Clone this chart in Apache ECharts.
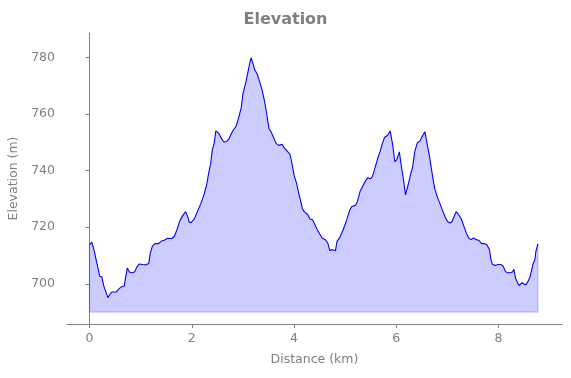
<!DOCTYPE html>
<html>
<head>
<meta charset="utf-8">
<script src="https://cdn.jsdelivr.net/npm/echarts@6/dist/echarts.min.js"></script>
<style>
  html, body { margin: 0; padding: 0; background: #fff; }
  #chart { width: 571px; height: 378px; }
</style>
</head>
<body>
<div id="chart"></div>
<script>
// distance along the route (km)
var distanceKm = [
  0.00, 0.045, 0.10, 0.15, 0.20, 0.24, 0.28, 0.31, 0.36, 0.40, 0.435, 0.47, 0.52, 0.58, 0.63, 0.68,
  0.71, 0.74, 0.78, 0.82, 0.88, 0.93, 0.97, 1.04, 1.10, 1.16, 1.19, 1.23, 1.28, 1.35, 1.40, 1.46,
  1.53, 1.61, 1.66, 1.71, 1.77, 1.82, 1.88, 1.92, 1.95, 1.99, 2.05, 2.11, 2.18, 2.24, 2.29, 2.33,
  2.37, 2.40, 2.44, 2.47, 2.53, 2.58, 2.63, 2.68, 2.73, 2.78, 2.82, 2.87, 2.92, 2.97, 3.00, 3.05,
  3.09, 3.13, 3.16, 3.20, 3.23, 3.28, 3.32, 3.37, 3.42, 3.46, 3.51, 3.55, 3.60, 3.65, 3.70, 3.77,
  3.81, 3.86, 3.92, 3.96, 4.00, 4.05, 4.09, 4.14, 4.16, 4.20, 4.23, 4.27, 4.31, 4.36, 4.40, 4.45,
  4.50, 4.55, 4.61, 4.66, 4.70, 4.74, 4.81, 4.84, 4.89, 4.94, 4.99, 5.04, 5.09, 5.13, 5.20, 5.24,
  5.29, 5.35, 5.39, 5.44, 5.49, 5.53, 5.59, 5.63, 5.68, 5.73, 5.77, 5.83, 5.88, 5.90, 5.93, 5.97,
  6.01, 6.06, 6.09, 6.14, 6.18, 6.23, 6.28, 6.32, 6.36, 6.41, 6.46, 6.50, 6.56, 6.58, 6.60, 6.65,
  6.70, 6.75, 6.80, 6.85, 6.90, 6.95, 7.00, 7.05, 7.09, 7.13, 7.17, 7.22, 7.27, 7.31, 7.37, 7.42,
  7.46, 7.51, 7.56, 7.61, 7.63, 7.67, 7.72, 7.77, 7.82, 7.85, 7.88, 7.94, 7.99, 8.05, 8.09, 8.13,
  8.17, 8.22, 8.27, 8.30, 8.33, 8.37, 8.40, 8.43, 8.46, 8.50, 8.54, 8.58, 8.62, 8.67, 8.71, 8.73,
  8.77
];

// elevation (m)
var elevationM = [
  713.7, 714.7, 711.0, 706.8, 702.7, 702.5, 699.2, 698.6, 695.1, 696.3, 697.1, 696.6, 697.1, 698.3, 699.0, 699.2,
  702.7, 705.6, 704.2, 703.9, 704.2, 706.0, 707.0, 706.8, 706.7, 707.2, 710.9, 713.3, 714.2, 714.2, 715.0, 715.4,
  716.1, 716.0, 716.8, 719.1, 722.4, 724.0, 725.5, 723.8, 721.7, 721.7, 722.9, 725.5, 728.5, 731.6, 734.9, 739.0,
  742.5, 747.2, 749.8, 754.0, 753.1, 751.3, 750.1, 750.3, 751.3, 753.3, 754.5, 755.8, 758.9, 762.4, 767.1, 770.6,
  774.1, 777.6, 779.8, 777.6, 775.6, 774.1, 771.8, 768.9, 764.8, 760.7, 754.8, 753.7, 751.7, 749.6, 748.9, 749.3,
  747.9, 747.0, 745.8, 742.5, 738.4, 735.5, 732.0, 728.5, 726.7, 725.5, 726.1, 724.4, 722.9, 722.6, 721.2, 719.3,
  717.7, 716.2, 715.6, 714.4, 711.7, 712.1, 711.7, 715.0, 716.2, 718.2, 720.5, 723.2, 726.1, 727.3, 727.7, 729.1,
  732.6, 734.7, 736.1, 737.5, 737.1, 737.8, 741.4, 743.9, 746.6, 749.8, 751.7, 752.5, 754.0, 753.7, 749.0, 743.1,
  743.9, 746.6, 742.5, 736.7, 731.4, 734.9, 738.7, 741.4, 746.6, 749.8, 750.4, 751.9, 753.7, 753.1, 749.6, 744.9,
  739.0, 733.7, 730.8, 728.5, 726.1, 723.8, 722.0, 721.5, 722.0, 723.8, 725.5, 724.4, 722.9, 720.9, 717.9, 716.1,
  715.6, 716.2, 715.6, 715.4, 715.8, 714.2, 714.2, 713.8, 712.1, 708.6, 706.8, 706.5, 706.8, 706.8, 706.2, 704.5,
  703.9, 703.9, 704.2, 705.1, 702.1, 700.4, 699.4, 699.0, 700.4, 699.8, 699.8, 701.0, 702.7, 706.8, 708.6, 711.5,
  714.1
];

var xTicks = [0, 2, 4, 6, 8];
var yTicks = [700, 720, 740, 760, 780];
var fillBase = 690;

var points = distanceKm.map(function (d, i) { return [d, elevationM[i]]; });
var last = distanceKm.length - 1;
// outline of the filled area (left edge, bottom, right edge)
var fillEdge = [
  [distanceKm[0], elevationM[0]],
  [distanceKm[0], fillBase],
  [distanceKm[last], fillBase],
  [distanceKm[last], elevationM[last]]
];

var gray = '#808080';
var font = 'DejaVu Sans';

var chart = echarts.init(document.getElementById('chart'));
var option = {
  backgroundColor: '#fff',
  animation: false,
  title: {
    text: 'Elevation',
    left: 'center',
    top: 7,
    textStyle: { color: gray, fontSize: 16, fontWeight: 'bold', fontFamily: font }
  },
  grid: { left: 67, right: 9, top: 33, bottom: 54, containLabel: false, outerBoundsMode: 'none' },
  xAxis: {
    type: 'value',
    min: -0.44,
    max: 9.24,
    name: 'Distance (km)',
    nameLocation: 'middle',
    nameGap: 29,
    nameTextStyle: { color: gray, fontSize: 12.5, fontFamily: font },
    axisLine: { show: true, lineStyle: { color: gray, width: 1 } },
    axisTick: { show: true, length: 4, customValues: xTicks, lineStyle: { color: gray } },
    axisLabel: { customValues: xTicks, color: gray, fontSize: 12.5, fontFamily: font, margin: 8 },
    splitLine: { show: false }
  },
  yAxis: {
    type: 'value',
    min: 685.8,
    max: 788.6,
    name: 'Elevation (m)',
    nameLocation: 'middle',
    nameGap: 40,
    nameTextStyle: { color: gray, fontSize: 12.5, fontFamily: font },
    axisLine: { show: true, lineStyle: { color: gray, width: 1 } },
    axisTick: { show: true, length: 4, customValues: yTicks, lineStyle: { color: gray } },
    axisLabel: { customValues: yTicks, color: gray, fontSize: 12.5, fontFamily: font, margin: 12 },
    splitLine: { show: false }
  },
  series: [
    {
      type: 'line',
      data: fillEdge,
      symbol: 'none',
      silent: true,
      z: 1,
      lineStyle: { color: 'rgba(0,0,255,0.2)', width: 1.2 }
    },
    {
      type: 'line',
      data: points,
      symbol: 'none',
      z: 2,
      lineStyle: { color: '#0000ff', width: 1.1 },
      areaStyle: { color: 'rgba(0,0,255,0.2)', origin: fillBase, opacity: 1 }
    }
  ]
};
chart.setOption(option);
</script>
</body>
</html>
